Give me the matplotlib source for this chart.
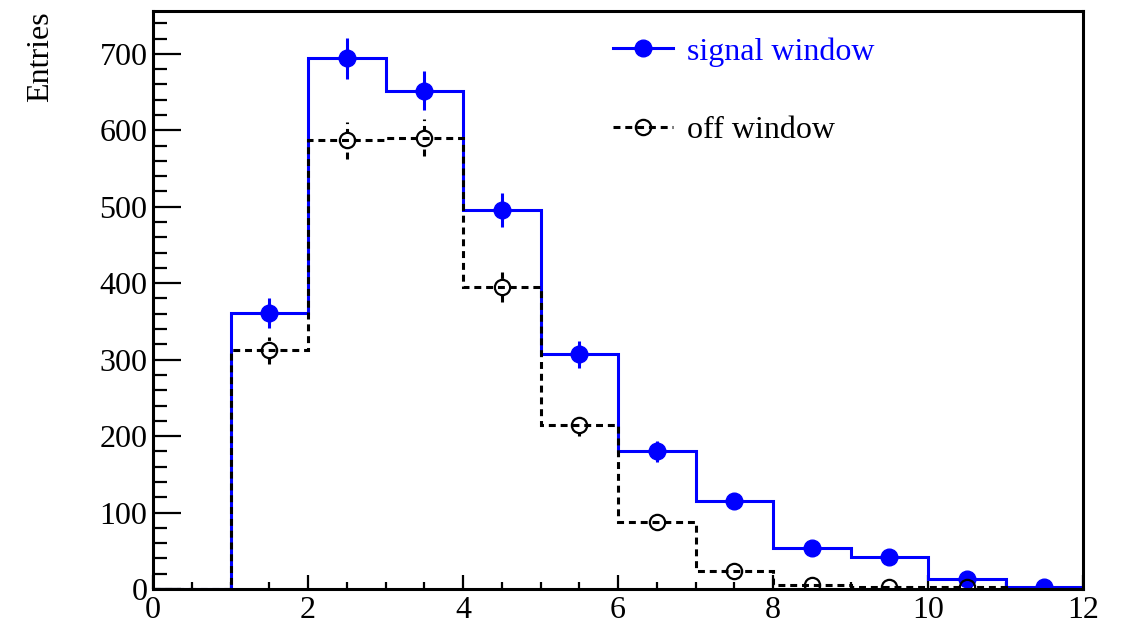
import numpy as np
import matplotlib
matplotlib.use("Agg")
import matplotlib.pyplot as plt
from matplotlib.lines import Line2D
from matplotlib.ticker import MultipleLocator

plt.rcParams['font.family'] = ['Liberation Serif', 'DejaVu Serif']
plt.rcParams['lines.scale_dashes'] = False

# ---- data ----
bin_edges = [0, 1, 2, 3, 4, 5, 6, 7, 8, 9, 10, 11, 12]
signal_counts = [0, 361, 694, 652, 496, 307, 180, 115, 53, 42, 13, 2]
off_counts = [0, 312, 587, 590, 395, 215, 87, 23, 5, 3, 2, 0]
signal_label = "signal window"
off_label = "off window"
y_label = "Entries"

edges = np.array(bin_edges, dtype=float)
centers = 0.5 * (edges[:-1] + edges[1:])
sig = np.array(signal_counts, dtype=float)
off = np.array(off_counts, dtype=float)

FS = 23
LW = 2.2
DASH = (5, 3.5)
MS_SIG = 12
MS_OFF = 11

fig = plt.figure(figsize=(11.24, 6.24), dpi=100)
ax = fig.add_axes([153/1124, 35/624, 930/1124, 578/624])

# signal histogram
ax.stairs(sig, edges, baseline=0, color='blue', lw=LW, zorder=2)
ms = sig > 0
ax.errorbar(centers[ms], sig[ms], yerr=np.sqrt(sig[ms]), fmt='o', color='blue',
            ms=MS_SIG, elinewidth=LW, capsize=0, zorder=6)

# off-window histogram
mo = off > 0
eb = ax.errorbar(centers[mo], off[mo], yerr=np.sqrt(off[mo]), fmt='none', ecolor='black',
                 elinewidth=LW, capsize=0, zorder=3)
for lc in eb[2]:
    lc.set_linestyle((0, DASH))
ax.plot(centers[mo], off[mo], 'o', ms=MS_OFF, mfc='white', mec='none', zorder=4)
st = ax.stairs(off, edges, baseline=0, color='black', lw=LW, zorder=5)
st.set_linestyle((0, DASH))
ax.plot(centers[mo], off[mo], 'o', ms=MS_OFF, mfc='none', mec='black', mew=1.6, zorder=7)

ax.set_xlim(0, 12)
ax.set_ylim(0, 756)

ax.xaxis.set_major_locator(MultipleLocator(2))
ax.xaxis.set_minor_locator(MultipleLocator(0.5))
ax.yaxis.set_major_locator(MultipleLocator(100))
ax.yaxis.set_minor_locator(MultipleLocator(20))
ax.tick_params(axis='both', which='both', direction='in', width=1.6, labelsize=FS,
               top=False, right=False)
ax.tick_params(axis='x', which='major', length=10, pad=5)
ax.tick_params(axis='x', which='minor', length=5)
ax.tick_params(axis='y', which='major', length=20, pad=4)
ax.tick_params(axis='y', which='minor', length=10)
for sp in ax.spines.values():
    sp.set_linewidth(2.2)
    sp.set_zorder(10)

ax.set_ylabel(y_label, fontsize=FS, loc='top', labelpad=32)

h_sig = Line2D([], [], color='blue', lw=LW, marker='o', ms=MS_SIG)
h_off = Line2D([], [], color='black', lw=LW, linestyle=(0, DASH), marker='o', ms=MS_OFF,
               mfc='none', mec='black', mew=1.6)
leg = ax.legend([h_sig, h_off], [signal_label, off_label], loc='upper left',
                bbox_to_anchor=((613-153)/930, 0.955), frameon=False, fontsize=FS,
                handlelength=1.87, handletextpad=0.45, labelspacing=1.55,
                borderpad=0, borderaxespad=0, labelcolor=['blue', 'black'])

fig.savefig("out.png", dpi=100)
